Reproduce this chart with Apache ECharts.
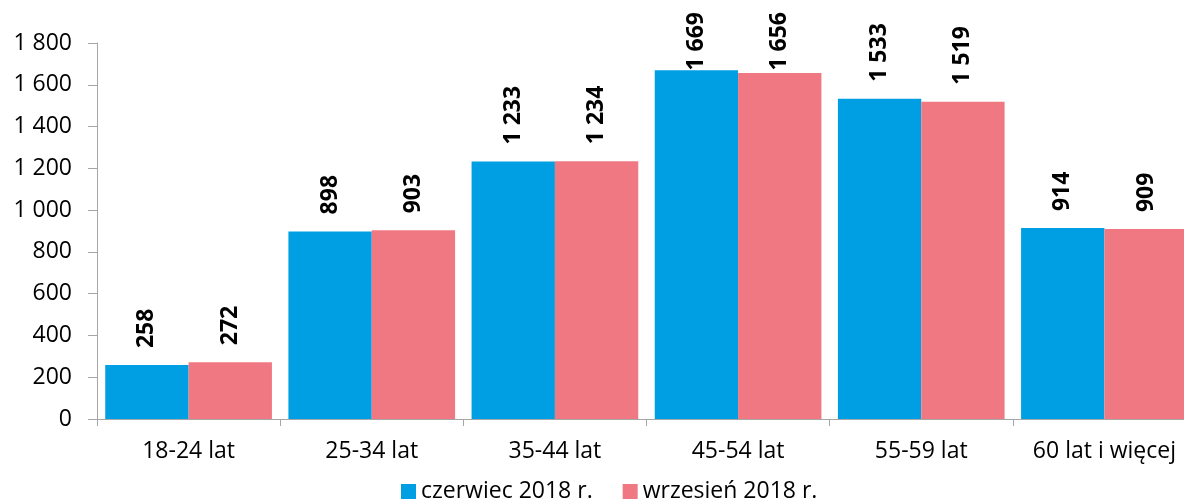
<!DOCTYPE html>
<html>
<head>
<meta charset="utf-8">
<script src="https://cdn.jsdelivr.net/npm/echarts@6/dist/echarts.min.js"></script>
<style>
html,body{margin:0;padding:0;background:#fff;}
#c{width:1184px;height:500px;}
</style>
</head>
<body>
<div id="c"></div>
<script>
var categories = ['18-24 lat', '25-34 lat', '35-44 lat', '45-54 lat', '55-59 lat', '60 lat i więcej'];
var seriesNames = ['czerwiec 2018 r.', 'wrzesień 2018 r.'];
var czerwiec = [258, 898, 1233, 1669, 1533, 914];
var wrzesien = [272, 903, 1234, 1656, 1519, 909];
var yTicks = [0, 200, 400, 600, 800, 1000, 1200, 1400, 1600, 1800];

var FONT = 'Open Sans';
var GRID_TOP = 43, GRID_H = 376, LABEL_FS = 23, LABEL_DIST = 17, LABEL_MIN_TOP = 12;
function fmt(v) { return String(v).replace(/\B(?=(\d{3})+(?!\d))/g, ' '); }

var ctx = document.createElement('canvas').getContext('2d');
ctx.font = 'bold ' + LABEL_FS + 'px "' + FONT + '"';
var yMin = yTicks[0], yMax = yTicks[yTicks.length - 1];
// keep labels inside the picture like the original (pushed down when they would be cut)
function withLabels(values) {
  return values.map(function (v) {
    var barTop = GRID_TOP + GRID_H * (1 - (v - yMin) / (yMax - yMin));
    var len = ctx.measureText(fmt(v)).width;
    var d = Math.min(LABEL_DIST, barTop - LABEL_MIN_TOP - len);
    return {value: v, label: {distance: d}};
  });
}

var chart = echarts.init(document.getElementById('c'), null, {renderer: 'canvas'});
var labelCfg = {
  show: true,
  position: 'top',
  rotate: 90,
  align: 'left',
  verticalAlign: 'middle',
  distance: LABEL_DIST,
  color: '#000',
  fontFamily: FONT,
  fontWeight: 'bold',
  fontSize: LABEL_FS,
  formatter: function (p) { return fmt(p.value); }
};
chart.setOption({
  animation: false,
  textStyle: {fontFamily: FONT},
  grid: {left: 97, top: GRID_TOP, right: -12, height: GRID_H, containLabel: false, outerBoundsMode: 'none'},
  legend: {
    data: seriesNames,
    left: 396,
    top: 475,
    icon: 'rect',
    itemWidth: 15,
    itemHeight: 15,
    itemGap: 30,
    textStyle: {fontFamily: FONT, fontSize: 23, color: '#000'}
  },
  xAxis: {
    type: 'category',
    data: categories,
    axisLine: {lineStyle: {color: '#A6A6A6', width: 1}},
    axisTick: {show: true, length: 7, lineStyle: {color: '#A6A6A6'}},
    axisLabel: {color: '#000', fontFamily: FONT, fontSize: 23, margin: 21, interval: 0}
  },
  yAxis: {
    type: 'value',
    min: yMin,
    max: yMax,
    interval: yTicks[1] - yTicks[0],
    axisLine: {show: true, lineStyle: {color: '#A6A6A6', width: 1}},
    axisTick: {show: true, length: 9, lineStyle: {color: '#A6A6A6'}},
    splitLine: {show: false},
    axisLabel: {color: '#000', fontFamily: FONT, fontSize: 23, margin: 25, formatter: fmt}
  },
  series: [
    {name: seriesNames[0], type: 'bar', data: withLabels(czerwiec), barGap: '0%', barCategoryGap: '9%',
     itemStyle: {color: '#009FE3'}, label: labelCfg},
    {name: seriesNames[1], type: 'bar', data: withLabels(wrzesien), barGap: '0%', barCategoryGap: '9%',
     itemStyle: {color: '#F07882'}, label: labelCfg}
  ]
});
</script>
</body>
</html>
